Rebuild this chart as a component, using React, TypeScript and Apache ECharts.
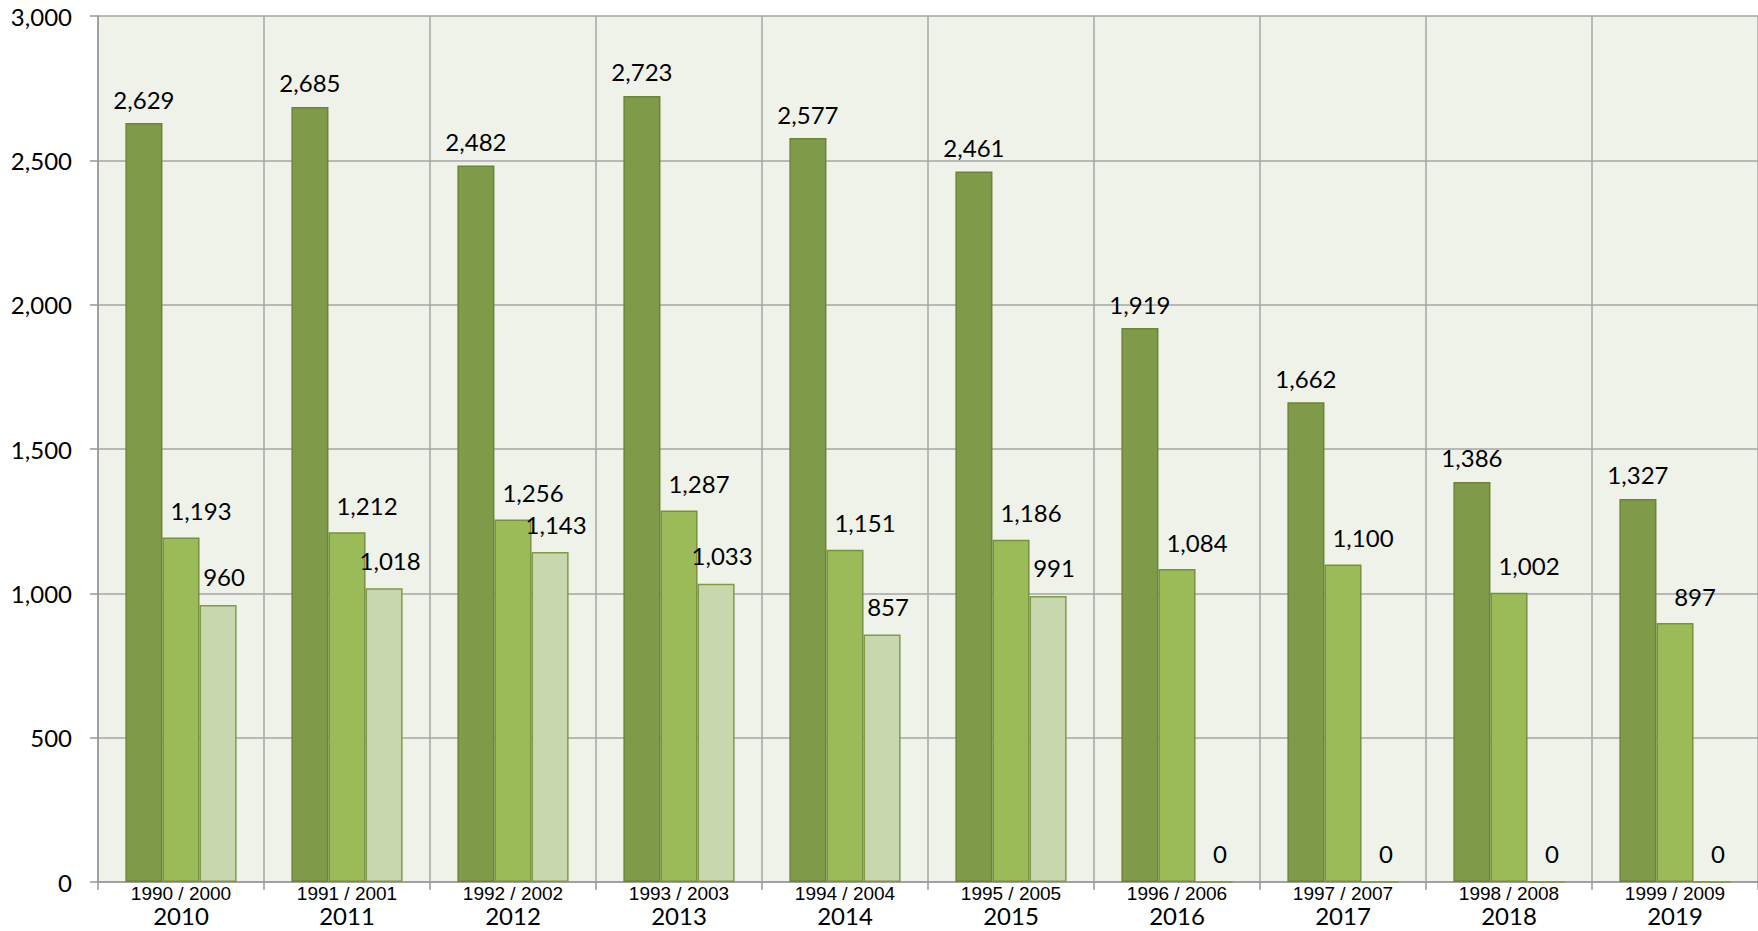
import React, { useEffect, useRef } from "react";
import * as echarts from "echarts";

const periods = ["1990 / 2000", "1991 / 2001", "1992 / 2002", "1993 / 2003", "1994 / 2004", "1995 / 2005", "1996 / 2006", "1997 / 2007", "1998 / 2008", "1999 / 2009"];
const years = ["2010", "2011", "2012", "2013", "2014", "2015", "2016", "2017", "2018", "2019"];
const series1 = [2629, 2685, 2482, 2723, 2577, 2461, 1919, 1662, 1386, 1327];
const series2 = [1193, 1212, 1256, 1287, 1151, 1186, 1084, 1100, 1002, 897];
const series3 = [960, 1018, 1143, 1033, 857, 991, 0, 0, 0, 0];
const yTicks = { min: 0, max: 3000, interval: 500 };

const categories = periods.map((p, i) => p + "|" + years[i]);

const labelFont = "Lato, 'Open Sans', sans-serif";
const fmt = (v: number) => v.toLocaleString("en-US");

export default function App() {
  const ref = useRef<HTMLDivElement>(null);
  useEffect(() => {
    if (!ref.current) return;
    const chart = echarts.init(ref.current, null, { renderer: "svg" });
    const mkLabel = (dist: number, dx: number) => ({
      show: true,
      position: "top",
      distance: dist,
      offset: [dx, 0],
      color: "#000",
      fontFamily: labelFont,
      fontSize: 24,
      formatter: (p: any) => fmt(p.value),
    });
    chart.setOption({
      animation: false,
      backgroundColor: "#ffffff",
      grid: {
        left: 98,
        right: 0,
        top: 16,
        bottom: 49,
        show: true,
        backgroundColor: "#eff2e9",
        borderWidth: 0,
      },
      xAxis: {
        type: "category",
        data: categories,
        axisLine: { show: true, lineStyle: { color: "#999999", width: 1.5 } },
        axisTick: { show: true, length: 8, lineStyle: { color: "#999999", width: 1.5 } },
        splitLine: { show: true, lineStyle: { color: "#a6a6a6", width: 1.5 } },
        axisLabel: {
          interval: 0,
          margin: 2,
          formatter: (v: string) => {
            const [a, b] = v.split("|");
            return "{a|" + a + "}\n{b|" + b + "}";
          },
          rich: {
            a: { fontFamily: "'Liberation Sans', Arial, sans-serif", fontSize: 19, lineHeight: 19, color: "#000" },
            b: { fontFamily: labelFont, fontSize: 24, lineHeight: 25, color: "#000" },
          },
        },
      },
      yAxis: {
        type: "value",
        min: yTicks.min,
        max: yTicks.max,
        interval: yTicks.interval,
        axisLine: { show: true, lineStyle: { color: "#999999", width: 1.5 } },
        axisTick: { show: true, length: 8, lineStyle: { color: "#999999", width: 1.5 } },
        splitLine: { show: true, lineStyle: { color: "#a6a6a6", width: 1.5 } },
        axisLabel: {
          margin: 26,
          color: "#000",
          fontFamily: labelFont,
          fontSize: 24,
          formatter: (v: number) => fmt(v),
        },
      },
      series: [
        {
          type: "bar",
          data: series1,
          barGap: "0%",
          barCategoryGap: "33%",
          itemStyle: { color: "#7f9a48", borderColor: "#6b8535", borderWidth: 1.5 },
          label: mkLabel(12, 0),
        },
        {
          type: "bar",
          data: series2,
          barGap: "0%",
          barCategoryGap: "33%",
          itemStyle: { color: "#9bbb59", borderColor: "#76923c", borderWidth: 1.5 },
          label: mkLabel(15, 20),
        },
        {
          type: "bar",
          data: series3,
          barGap: "0%",
          barCategoryGap: "33%",
          itemStyle: { color: "#c8d7ad", borderColor: "#7f9a48", borderWidth: 1.5 },
          label: mkLabel(16, 6),
        },
      ],
    });
    return () => chart.dispose();
  }, []);
  return (
    <div
      ref={ref}
      style={{ position: "fixed", left: 0, top: 0, width: 1758, height: 931 }}
    />
  );
}
